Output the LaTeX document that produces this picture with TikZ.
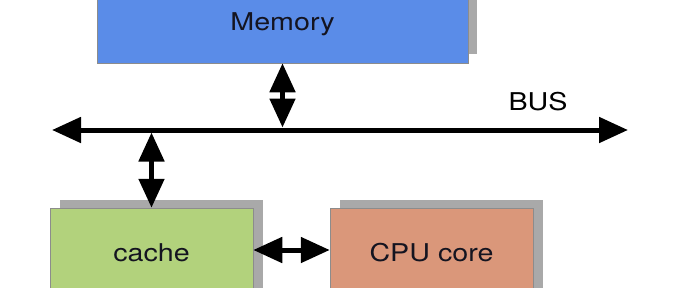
\documentclass[tikz,border=0pt]{standalone}
\usepackage{fontspec}
\setmainfont{TeX Gyre Heros}
\usetikzlibrary{arrows.meta,backgrounds}
\definecolor{memblue}{HTML}{5A8CE8}
\definecolor{cachegreen}{HTML}{B2D27C}
\definecolor{cpuorange}{HTML}{DA977A}
\definecolor{shadowgray}{HTML}{A9A9A9}
\definecolor{txt}{HTML}{141420}
\newcommand{\lbl}[1]{\scalebox{1.17}[1]{\fontsize{24.5}{28}\selectfont #1}}
\tikzset{
  box/.style={draw=black!45, line width=0.5pt, rectangle, inner sep=0pt, text=txt},
  conn/.style={line width=5pt, {Triangle[length=29pt,width=25pt]}-{Triangle[length=29pt,width=25pt]}},
}
\begin{document}
\begin{tikzpicture}[x=1pt,y=-1pt]
\clip (0,0) rectangle (674,287);
% nodes
\node[box, fill=memblue, minimum width=371pt, minimum height=78pt] (mem) at (282.5,24) {\lbl{Memory}};
\node[box, fill=cachegreen, minimum width=203pt, minimum height=90pt] (cache) at (151.5,253) {\lbl{cache}};
\node[box, fill=cpuorange, minimum width=203pt, minimum height=90pt] (cpu) at (431.5,253) {\lbl{CPU core}};
% shadows
\begin{scope}[on background layer]
\fill[white] (0,0) rectangle (674,287);
\fill[shadowgray] ([xshift=9pt,yshift=9pt]mem.south west) rectangle ([xshift=9pt,yshift=9pt]mem.north east);
\fill[shadowgray] ([xshift=10pt,yshift=8pt]cache.south west) rectangle ([xshift=10pt,yshift=8pt]cache.north east);
\fill[shadowgray] ([xshift=10pt,yshift=8pt]cpu.south west) rectangle ([xshift=10pt,yshift=8pt]cpu.north east);
\end{scope}
% bus
\coordinate (busL) at (52,130);
\coordinate (busR) at (628,130);
\draw[conn] (busL) -- (busR);
\node[text=black, anchor=center] (buslbl) at (538,102) {\lbl{BUS}};
% connectors
\draw[conn, shorten >=2.5pt] (mem.south) -- (mem.south |- busL);
\draw[conn, shorten <=2.5pt] (cache.north |- busL) -- (cache.north);
\draw[conn] (cache.east |- 0,250) -- (cpu.west |- 0,250);
\end{tikzpicture}
\end{document}
